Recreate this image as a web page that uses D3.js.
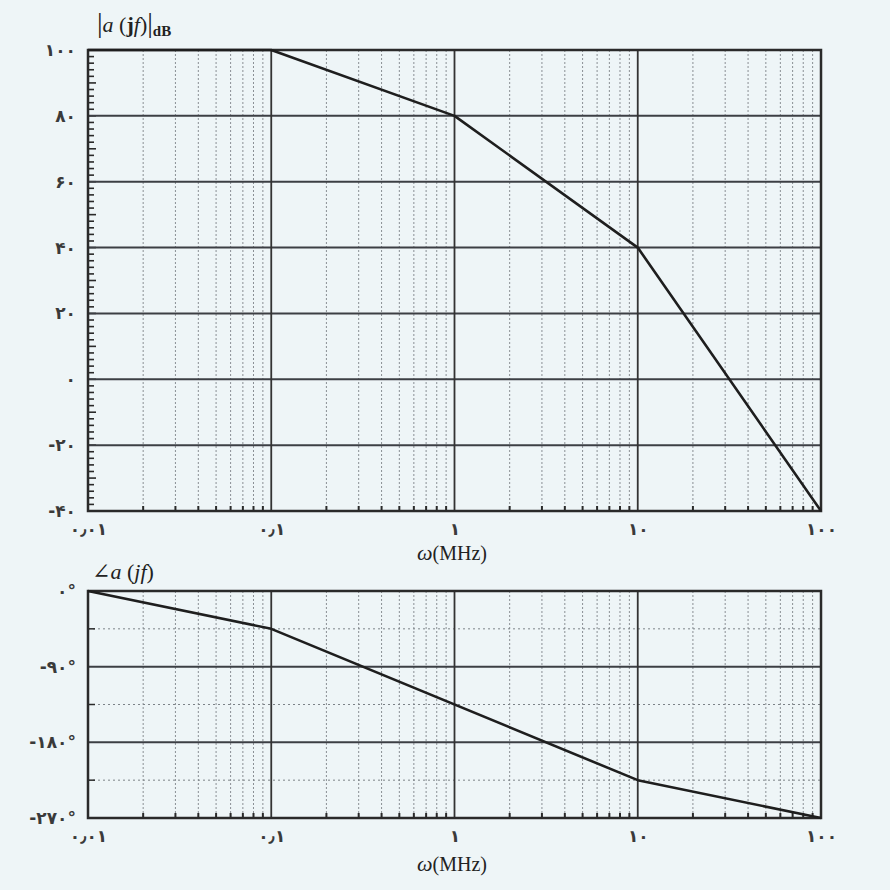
<!DOCTYPE html>
<html>
<head>
<meta charset="utf-8">
<script src="https://cdn.jsdelivr.net/npm/d3@7"></script>
<style>
  html, body { margin: 0; padding: 0; background: #eef5f7; }
  svg { display: block; }
</style>
</head>
<body>
<svg id="chart" width="890" height="890"></svg>
<script>
// ---------- data ----------
const freqTicks = [0.01, 0.1, 1, 10, 100];
const freqTickLabels = ["۰٫۰۱", "۰٫۱", "۱", "۱۰", "۱۰۰"];

const magFreq = [0.01, 0.1, 1, 10, 100];
const magDb = [100, 100, 80, 40, -40];
const magTicks = [100, 80, 60, 40, 20, 0, -20, -40];
const magTickLabels = ["۱۰۰", "۸۰", "۶۰", "۴۰", "۲۰", "۰", "-۲۰", "-۴۰"];

const phaseFreq = [0.01, 0.1, 10, 100];
const phaseDeg = [0, -45, -225, -270];
const phaseTicks = [0, -90, -180, -270];
const phaseTickLabels = ["۰°", "-۹۰°", "-۱۸۰°", "-۲۷۰°"];
const phaseMinorTicks = [-45, -135, -225];

// ---------- setup ----------
const svg = d3.select("#chart");
svg.append("rect").attr("width", 890).attr("height", 890).attr("fill", "#eef5f7");

const left = 88, right = 821;
const x = d3.scaleLog().domain([0.01, 100]).range([left, right]);

const minorFreqs = [];
for (let d = 0; d < freqTicks.length - 1; d++) {
  for (let k = 2; k <= 9; k++) minorFreqs.push(freqTicks[d] * k);
}

const ink = "#2a2a2a";
const digitFont = "'DejaVu Sans', sans-serif";

function panel(top, bottom, yDomain, majorY, majorLabels, minorY, dottedY, lineX, lineY) {
  const y = d3.scaleLinear().domain(yDomain).range([top, bottom]);
  const g = svg.append("g");

  // minor vertical grid (dotted)
  g.selectAll(".vminor").data(minorFreqs).enter().append("line")
    .attr("x1", d => x(d)).attr("x2", d => x(d))
    .attr("y1", top).attr("y2", bottom)
    .attr("stroke", "#8a8f94").attr("stroke-width", 1)
    .attr("stroke-dasharray", "2,2");

  // minor ticks on bottom axis
  g.selectAll(".xtick").data(minorFreqs).enter().append("line")
    .attr("x1", d => x(d)).attr("x2", d => x(d))
    .attr("y1", bottom - 5).attr("y2", bottom)
    .attr("stroke", ink).attr("stroke-width", 2);

  // dotted horizontal minor grid
  if (dottedY) {
    g.selectAll(".hdot").data(dottedY).enter().append("line")
      .attr("x1", left).attr("x2", right)
      .attr("y1", d => y(d)).attr("y2", d => y(d))
      .attr("stroke", "#7d8388").attr("stroke-width", 1)
      .attr("stroke-dasharray", "2,3");
    g.selectAll(".hdott").data(dottedY).enter().append("line")
      .attr("x1", left).attr("x2", left + 7)
      .attr("y1", d => y(d)).attr("y2", d => y(d))
      .attr("stroke", ink).attr("stroke-width", 1.5);
  }

  // left axis minor ticks
  if (minorY) {
    g.selectAll(".ytick").data(minorY).enter().append("line")
      .attr("x1", left).attr("x2", d => left + (d % 10 === 0 ? 8 : 6))
      .attr("y1", d => y(d)).attr("y2", d => y(d))
      .attr("stroke", ink).attr("stroke-width", 1.6);
  }

  // major horizontal grid
  g.selectAll(".hmajor").data(majorY).enter().append("line")
    .attr("x1", left).attr("x2", right)
    .attr("y1", d => y(d)).attr("y2", d => y(d))
    .attr("stroke", "#3c3f44").attr("stroke-width", 2);

  // major vertical grid
  g.selectAll(".vmajor").data(freqTicks).enter().append("line")
    .attr("x1", d => x(d)).attr("x2", d => x(d))
    .attr("y1", top).attr("y2", bottom)
    .attr("stroke", "#333").attr("stroke-width", 1.8);

  // frame
  g.append("rect").attr("x", left).attr("y", top)
    .attr("width", right - left).attr("height", bottom - top)
    .attr("fill", "none").attr("stroke", ink).attr("stroke-width", 2.5);

  // y labels via axis
  const yAxis = d3.axisLeft(y).tickValues(majorY)
    .tickFormat((d, i) => majorLabels[i]).tickSize(0).tickPadding(12);
  const ya = g.append("g").attr("transform", `translate(${left},0)`).call(yAxis);
  ya.select(".domain").remove();
  ya.selectAll("text").attr("font-family", digitFont).attr("font-size", 17)
    .attr("font-weight", "bold").attr("fill", "#3a3a3a");

  // x labels via axis
  const xAxis = d3.axisBottom(x).tickValues(freqTicks)
    .tickFormat((d, i) => freqTickLabels[i]).tickSize(0).tickPadding(12);
  const xa = g.append("g").attr("transform", `translate(0,${bottom})`).call(xAxis);
  xa.select(".domain").remove();
  xa.selectAll("text").attr("font-family", digitFont).attr("font-size", 17)
    .attr("font-weight", "bold").attr("fill", "#3a3a3a");

  // curve
  const pts = lineX.map((f, i) => [f, lineY[i]]);
  g.append("path").datum(pts)
    .attr("d", d3.line().x(d => x(d[0])).y(d => y(d[1])))
    .attr("fill", "none").attr("stroke", "#1e1e1e").attr("stroke-width", 2.6)
    .attr("stroke-linejoin", "round");

  return y;
}

// magnitude panel
const magMinor = d3.range(-40, 101, 2);
panel(50, 511, [100, -40], magTicks, magTickLabels, magMinor, null, magFreq, magDb);

// phase panel
panel(591, 818, [0, -270], phaseTicks, phaseTickLabels, null, phaseMinorTicks, phaseFreq, phaseDeg);

// ---------- titles ----------
const serif = "'Liberation Serif', 'DejaVu Serif', serif";
const t1 = svg.append("text").attr("x", 97).attr("y", 32)
  .attr("font-family", serif).attr("font-size", 28).attr("fill", "#222");
t1.append("tspan").text("|");
t1.append("tspan").attr("font-style", "italic").attr("font-size", 22).text("a");
t1.append("tspan").attr("font-size", 22).text(" (");
t1.append("tspan").attr("font-weight", "bold").attr("font-size", 22).text("j");
t1.append("tspan").attr("font-style", "italic").attr("font-size", 22).text("f");
t1.append("tspan").attr("font-size", 22).text(")");
t1.append("tspan").text("|");
t1.append("tspan").attr("font-size", 15).attr("font-weight", "bold").attr("dy", 4).text("dB");

const t2 = svg.append("text").attr("x", 92).attr("y", 579)
  .attr("font-family", serif).attr("font-size", 22).attr("fill", "#222");
t2.append("tspan").text("∠");
t2.append("tspan").attr("font-style", "italic").text("a");
t2.append("tspan").text(" (");
t2.append("tspan").attr("font-style", "italic").text("jf");
t2.append("tspan").text(")");

function freqLabel(yPos) {
  const t = svg.append("text").attr("x", 452).attr("y", yPos)
    .attr("text-anchor", "middle")
    .attr("font-family", serif).attr("font-size", 20).attr("fill", "#222");
  t.append("tspan").attr("font-style", "italic").attr("font-size", 22).text("ω");
  t.append("tspan").text("(MHz)");
}
freqLabel(560);
freqLabel(871);
</script>
</body>
</html>
